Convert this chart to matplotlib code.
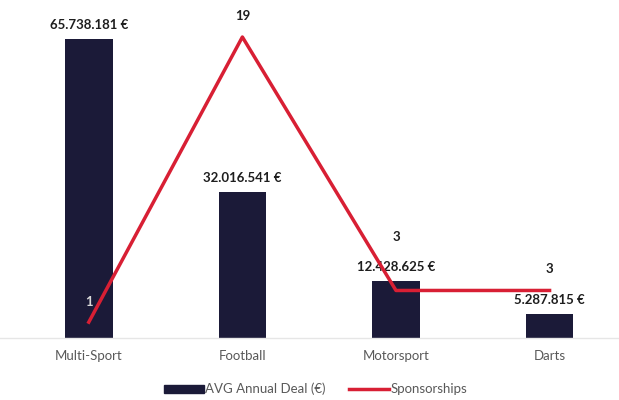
import matplotlib
matplotlib.use("Agg")
import matplotlib.pyplot as plt
from matplotlib.patches import Patch
from matplotlib.lines import Line2D

categories = ["Multi-Sport", "Football", "Motorsport", "Darts"]
avg_deal = [65738181, 32016541, 12428625, 5287815]
deal_labels = ["65.738.181 €", "32.016.541 €", "12.428.625 €", "5.287.815 €"]
sponsorships = [1, 19, 3, 3]

navy = "#1b1a38"
red = "#d81f34"
plt.rcParams['font.family'] = ['Lato', 'DejaVu Sans']

fig = plt.figure(figsize=(6.19, 4.0), dpi=100)
ax = fig.add_axes([0.0, 0.155, 1.0, 0.82])
x = list(range(len(categories)))
ax.bar(x, avg_deal, width=0.31, color=navy, zorder=2)
ax.set_xlim(-0.578, 3.452)
ax.set_ylim(0, 65738181 * 328 / 299)
for s in ["top", "right", "left"]:
    ax.spines[s].set_visible(False)
ax.spines["bottom"].set_color("#e6e6e6")
ax.spines["bottom"].set_linewidth(1.0)
ax.set_yticks([])
ax.set_xticks(x)
ax.set_xticklabels(categories, fontsize=9.5, color="#595959")
ax.tick_params(axis="x", length=0, pad=9)
for xi, v, lab in zip(x, avg_deal, deal_labels):
    ax.annotate(lab, (xi, v), xytext=(0, 6), textcoords="offset points",
                ha="center", va="bottom", fontsize=9.5, fontweight="bold", color="#1e1e1e")

ax2 = ax.twinx()
ax2.plot(x, sponsorships, color=red, lw=2.5, zorder=3)
ax2.set_ylim(0, 19 * 328 / 301)
ax2.set_yticks([])
for s in ["top", "right", "left", "bottom"]:
    ax2.spines[s].set_visible(False)
line_offsets = [10, 11, 34, 11]
line_colors = ["#d9d9d9", "#1e1e1e", "#1e1e1e", "#1e1e1e"]
for xi, v, off, c in zip(x, sponsorships, line_offsets, line_colors):
    ax2.annotate(str(v), (xi, v), xytext=(0, off), textcoords="offset points",
                 ha="center", va="bottom", fontsize=9.5, fontweight="bold", color=c)

handles = [Patch(facecolor=navy, edgecolor=navy),
           Line2D([0], [0], color=red, lw=2.5)]
fig.legend(handles, ["AVG Annual Deal (€)", "Sponsorships"], loc="center",
           bbox_to_anchor=(0.51, 0.027), ncol=2, frameon=False, fontsize=9.5,
           labelcolor="#595959", handlelength=3.0, handleheight=0.5,
           handletextpad=0.1, columnspacing=1.8)

fig.savefig("out.png", dpi=100)
